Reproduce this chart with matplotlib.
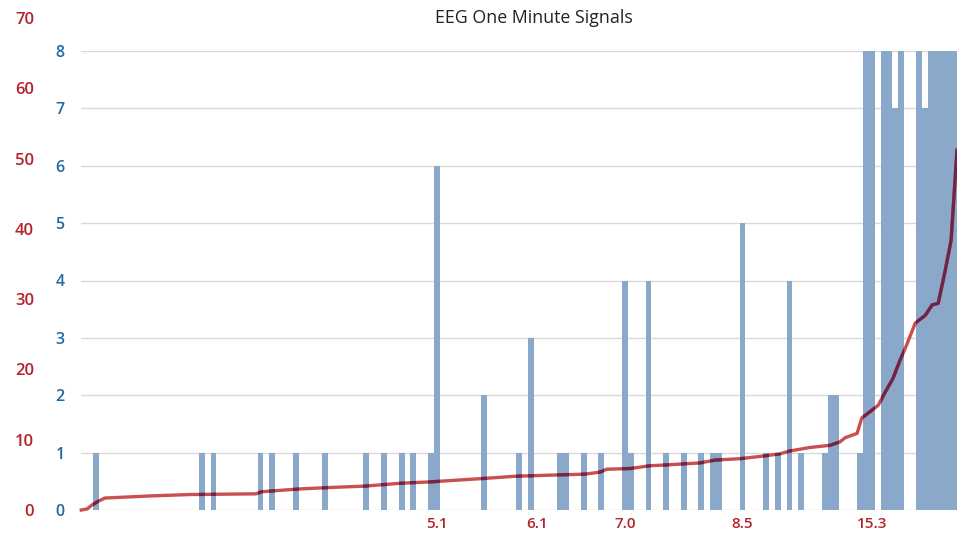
import matplotlib
matplotlib.use("Agg")
import matplotlib.pyplot as plt

plt.rcParams['font.family'] = ['Open Sans', 'DejaVu Sans']

# Categories (one per sample, sorted); bars = count per category
n_cats = 149
bar_idx = [2, 20, 22, 30, 32, 36, 41, 48, 51, 54,
           56, 59, 60, 68, 74, 76, 81, 82, 85, 88,
           92, 93, 96, 99, 102, 105, 107, 108, 112, 116,
           118, 120, 122, 126, 127, 128, 132, 133, 134, 136,
           137, 138, 139, 142, 143, 144, 145, 146, 147, 148]
bar_val = [1, 1, 1, 1, 1, 1, 1, 1, 1, 1,
           1, 1, 6, 2, 1, 3, 1, 1, 1, 1,
           4, 1, 4, 1, 1, 1, 1, 1, 5, 1,
           1, 4, 1, 1, 2, 2, 1, 8, 8, 8,
           8, 7, 8, 8, 7, 8, 8, 8, 8, 8]

# Cumulative signal curve (red axis)
line_x = [-0.5, 0.5, 1.3, 2.3, 3.5, 11.2, 18.0, 29.2, 30.2, 36.7,
          41.8, 47.8, 53.7, 58.8, 68.2, 73.3, 80.9, 85.2, 87.8, 88.9,
          92.9, 96.3, 98.8, 104.8, 107.3, 111.6, 115.8, 118.4, 120.1, 123.5,
          126.9, 128.6, 129.5, 131.5, 132.3, 133.4, 135.1, 136.3, 137.6, 138.8,
          139.7, 141.4, 143.1, 144.3, 145.3, 146.5, 147.5, 148.5]
line_y = [0.0, 0.15, 0.7, 1.2, 1.7, 2.0, 2.2, 2.3, 2.6, 3.0,
          3.2, 3.4, 3.8, 4.0, 4.5, 4.8, 5.0, 5.1, 5.4, 5.8,
          5.9, 6.3, 6.4, 6.7, 7.1, 7.3, 7.7, 8.0, 8.4, 8.9,
          9.2, 9.7, 10.3, 10.9, 13.1, 13.8, 14.9, 16.8, 18.7, 21.3,
          23.0, 26.6, 27.7, 29.2, 29.4, 34.1, 38.4, 51.2]

xtick_pos = [60, 77, 92, 112, 134]
xtick_lab = ['5.1', '6.1', '7.0', '8.5', '15.3']

blue = '#1F6AA5'
red = '#B3242A'
bar_color = '#8AA8CA'
line_color = '#C9504F'
dark_line = '#6E2548'

W, H = 957, 536
fig = plt.figure(figsize=(W / 100, H / 100), dpi=100)

left, right, bottom = 81.3, 957, 536 - 510
ax = fig.add_axes([left / W, bottom / H, (right - left) / W, (510 - 51) / H])
ax2 = fig.add_axes([left / W, bottom / H, (right - left) / W, (510 - 18) / H])

bars = ax.bar(bar_idx, bar_val, width=1.0, color=bar_color, zorder=2)
ax.set_xlim(-0.5, n_cats - 0.5)
ax.set_ylim(0, 8)
ax.set_yticks(range(9))
ax.grid(axis='y', color='#D9D9D9', linewidth=1.0, zorder=0)
ax.set_axisbelow(True)
for s in ax.spines.values():
    s.set_visible(False)
ax.tick_params(axis='y', length=0, pad=12, labelcolor=blue, labelsize=11.5)
ax.set_xticks(xtick_pos)
ax.set_xticklabels(xtick_lab)
ax.tick_params(axis='x', length=0, pad=5, labelcolor=red, labelsize=11)
for t in ax.get_yticklabels() + ax.get_xticklabels():
    t.set_fontweight('semibold')

ax2.patch.set_visible(False)
ax2.set_xlim(-0.5, n_cats - 0.5)
ax2.set_ylim(0, 70)
ax2.set_yticks(range(0, 71, 10))
ax2.set_xticks([])
for s in ax2.spines.values():
    s.set_visible(False)
ax2.tick_params(axis='y', length=0, pad=34, labelcolor=red, labelsize=12)
for t in ax2.get_yticklabels():
    t.set_fontweight('semibold')

ax2.plot(line_x, line_y, color=line_color, linewidth=2.4, zorder=3,
         solid_joinstyle='round', clip_on=False)
# darker where the curve passes over a bar
for b in bars:
    ln, = ax2.plot(line_x, line_y, color=dark_line, linewidth=2.4, zorder=4,
                   solid_joinstyle='round')
    ln.set_clip_path(b)

fig.text(534 / W, 1 - 18 / H, 'EEG One Minute Signals',
         ha='center', va='center', fontsize=12.8, color='#222222')

fig.savefig('out.png', dpi=100)
